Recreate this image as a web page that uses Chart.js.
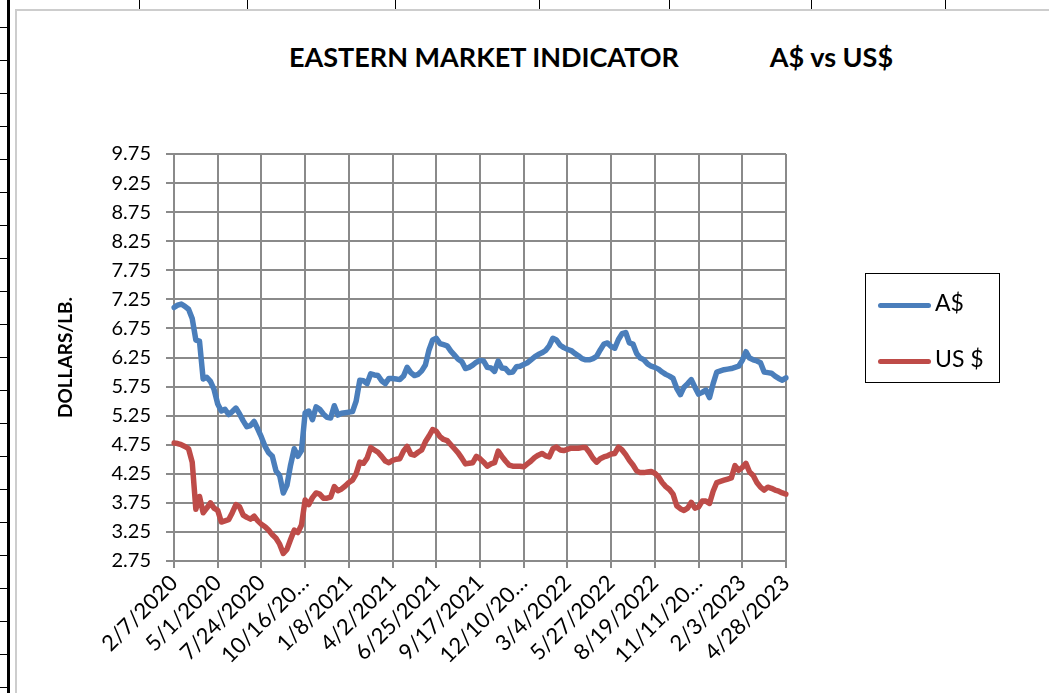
<!DOCTYPE html>
<html lang="en">
<head>
<meta charset="UTF-8">
<title>Eastern Market Indicator</title>
<script src="https://cdn.jsdelivr.net/npm/chart.js"></script>
<style>
    html, body { margin: 0; padding: 0; background: #fff; overflow: hidden; }
    body { width: 1049px; height: 693px; position: relative; font-family: Lato, sans-serif; }
    .cellLine { position: absolute; top: 0; width: 1px; height: 9px; background: #000; }
    .leftBar { position: absolute; left: 7px; top: 0; width: 3px; height: 693px; background: #000; }
    .leftTick { position: absolute; left: 0; width: 7px; height: 1px; background: #000; }
    .frameTop { position: absolute; left: 15px; top: 9px; width: 1034px; height: 2px; background: #cdcdcd; }
    .frameLeft { position: absolute; left: 15px; top: 9px; width: 2px; height: 684px; background: #cdcdcd; }
    .chartBox { position: absolute; left: 15px; top: 9px; width: 1034px; height: 684px; }
    .title { position: absolute; left: 289px; top: 39px; white-space: pre; font: bold 27px Lato, sans-serif; color: #000; line-height: 36px; }
    .legend { position: absolute; left: 865px; top: 273px; width: 135px; height: 110px; border: 1.5px solid #000; box-sizing: border-box; }
    .legend div { position: absolute; left: 12px; height: 28px; font: 23px Lato, sans-serif; color: #000; line-height: 28px; white-space: pre; }
    .legend i { display: inline-block; width: 53px; height: 5px; border-radius: 3px; vertical-align: middle; margin-right: 4px; }
</style>
</head>
<body>
<div id="cells"></div>
<div class="leftBar"></div>
<div class="frameTop"></div>
<div class="frameLeft"></div>
<div class="title">EASTERN MARKET INDICATOR              A$ vs US$</div>
<div class="chartBox"><canvas id="emiChart"></canvas></div>
<div class="legend" id="legend"></div>

<script>
    // weekly EMI, dollars/lb, first week 2/7/2020
    const startDate = new Date(2020, 1, 7);
    const weekCount = 169;

    const tickLabels = ["2/7/2020", "5/1/2020", "7/24/2020", "10/16/20…", "1/8/2021", "4/2/2021",
        "6/25/2021", "9/17/2021", "12/10/20…", "3/4/2022", "5/27/2022", "8/19/2022",
        "11/11/20…", "2/3/2023", "4/28/2023"];

    const audValues = [
        7.11, 7.15, 7.17, 7.13, 7.08, 6.92, 6.55, 6.53, 5.88, 5.91, 5.84, 5.70, 5.45,
        5.33, 5.36, 5.27, 5.32, 5.38, 5.28, 5.16, 5.06, 5.08, 5.15, 5.02, 4.88,
        4.72, 4.61, 4.55, 4.30, 4.22, 3.92, 4.05, 4.40, 4.68, 4.55, 4.65, 5.30,
        5.33, 5.18, 5.40, 5.36, 5.28, 5.22, 5.21, 5.42, 5.26, 5.29, 5.30, 5.31,
        5.32, 5.50, 5.86, 5.85, 5.80, 5.97, 5.95, 5.94, 5.85, 5.80, 5.89, 5.89,
        5.88, 5.87, 5.93, 6.08, 5.99, 5.94, 5.96, 6.02, 6.12, 6.38, 6.55, 6.58,
        6.49, 6.47, 6.45, 6.36, 6.29, 6.22, 6.18, 6.06, 6.08, 6.12, 6.17, 6.20,
        6.19, 6.08, 6.07, 6.01, 6.19, 6.07, 6.06, 5.99, 6.00, 6.09, 6.10, 6.13,
        6.16, 6.21, 6.26, 6.30, 6.33, 6.37, 6.45, 6.58, 6.55, 6.46, 6.42, 6.39,
        6.37, 6.32, 6.28, 6.23, 6.21, 6.21, 6.23, 6.27, 6.38, 6.48, 6.50, 6.44,
        6.41, 6.56, 6.66, 6.68, 6.50, 6.48, 6.32, 6.24, 6.21, 6.14, 6.10, 6.08,
        6.05, 6.00, 5.96, 5.93, 5.89, 5.72, 5.61, 5.74, 5.80, 5.87, 5.74, 5.62,
        5.65, 5.69, 5.56, 5.80, 6.00, 6.02, 6.04, 6.05, 6.06, 6.08, 6.10, 6.20,
        6.35, 6.24, 6.21, 6.19, 6.16, 6.00, 5.99, 5.98, 5.93, 5.89, 5.86, 5.90
    ];

    const usdValues = [
        4.78, 4.77, 4.75, 4.72, 4.68, 4.45, 3.64, 3.86, 3.58, 3.66, 3.75, 3.66, 3.62,
        3.42, 3.44, 3.46, 3.58, 3.72, 3.68, 3.54, 3.50, 3.47, 3.52, 3.44, 3.38,
        3.34, 3.28, 3.20, 3.14, 3.04, 2.88, 2.95, 3.12, 3.28, 3.24, 3.37, 3.80,
        3.72, 3.84, 3.92, 3.90, 3.83, 3.83, 3.85, 4.03, 3.96, 3.99, 4.04, 4.10,
        4.14, 4.25, 4.45, 4.43, 4.52, 4.70, 4.66, 4.62, 4.55, 4.47, 4.44, 4.48,
        4.50, 4.51, 4.64, 4.72, 4.59, 4.57, 4.62, 4.66, 4.80, 4.90, 5.01, 4.98,
        4.89, 4.84, 4.82, 4.75, 4.68, 4.61, 4.52, 4.42, 4.43, 4.44, 4.55, 4.51,
        4.45, 4.38, 4.42, 4.44, 4.64, 4.55, 4.47, 4.40, 4.38, 4.38, 4.38, 4.37,
        4.42, 4.47, 4.53, 4.57, 4.60, 4.56, 4.54, 4.68, 4.71, 4.66, 4.65, 4.67,
        4.69, 4.69, 4.69, 4.70, 4.70, 4.62, 4.52, 4.45, 4.51, 4.54, 4.56, 4.59,
        4.60, 4.71, 4.66, 4.58, 4.48, 4.40, 4.30, 4.27, 4.27, 4.28, 4.29, 4.26,
        4.20, 4.10, 4.03, 3.98, 3.90, 3.70, 3.65, 3.62, 3.66, 3.76, 3.66, 3.68,
        3.78, 3.78, 3.74, 3.95, 4.10, 4.12, 4.14, 4.16, 4.18, 4.39, 4.31, 4.36,
        4.43, 4.28, 4.22, 4.10, 4.02, 3.97, 4.02, 4.00, 3.97, 3.95, 3.92, 3.90
    ];

    const seriesNames = ["A$", "US $"];
    const seriesColors = ["#4a7ebb", "#be4b48"];

    // spreadsheet cell borders behind the chart
    const cellEdges = [139, 247, 395, 539, 669, 811, 945];
    const cells = document.getElementById("cells");
    cellEdges.forEach(x => {
        const d = document.createElement("span");
        d.className = "cellLine";
        d.style.left = x + "px";
        cells.appendChild(d);
    });
    for (let y = 27; y < 693; y += 33) {
        const t = document.createElement("span");
        t.className = "leftTick";
        t.style.top = y + "px";
        cells.appendChild(t);
    }

    const weeks = [];
    for (let i = 0; i < weekCount; i++) {
        const d = new Date(startDate.getTime() + i * 7 * 86400000);
        weeks.push((d.getMonth() + 1) + "/" + d.getDate() + "/" + d.getFullYear());
    }

    const gridGray = "#8a8a8a";

    const chart = new Chart(document.getElementById("emiChart"), {
        type: "line",
        data: {
            labels: weeks,
            datasets: [
                { label: seriesNames[0], data: audValues, borderColor: seriesColors[0] },
                { label: seriesNames[1], data: usdValues, borderColor: seriesColors[1] }
            ]
        },
        options: {
            responsive: true,
            maintainAspectRatio: false,
            animation: false,
            layout: { padding: { left: 0, right: 263, top: 145, bottom: 0 } },
            elements: {
                line: { borderWidth: 5.5, tension: 0, fill: false, borderJoinStyle: "round", borderCapStyle: "round" },
                point: { radius: 0 }
            },
            plugins: {
                legend: { display: false },
                title: { display: false },
                tooltip: { enabled: false }
            },
            scales: {
                x: {
                    grid: { color: gridGray, lineWidth: 2, tickLength: 7 },
                    border: { color: gridGray, width: 2 },
                    ticks: {
                        autoSkip: false,
                        minRotation: 45,
                        maxRotation: 45,
                        padding: 2,
                        color: "#000",
                        font: { family: "Lato", size: 22 },
                        callback: (v, i) => i % 12 === 0 ? tickLabels[i / 12] : null
                    },
                    afterFit: s => { s.height = 132; }
                },
                y: {
                    min: 2.75,
                    max: 9.75,
                    grid: { color: gridGray, lineWidth: 2, tickLength: 8 },
                    border: { color: gridGray, width: 2 },
                    ticks: {
                        stepSize: 0.5,
                        autoSkip: false,
                        padding: 15,
                        color: "#000",
                        font: { family: "Lato", size: 20 },
                        callback: v => v.toFixed(2)
                    },
                    title: {
                        display: true,
                        text: "DOLLARS/LB.",
                        color: "#000",
                        font: { family: "Lato", size: 19, weight: "bold" },
                        padding: { top: 39, bottom: 0 }
                    },
                    afterFit: s => { s.width = 159; }
                }
            }
        }
    });

    // legend box built from the datasets
    const legend = document.getElementById("legend");
    chart.data.datasets.forEach((ds, k) => {
        const row = document.createElement("div");
        row.style.top = (14 + k * 56) + "px";
        row.innerHTML = '<i style="background:' + ds.borderColor + '"></i>' + ds.label;
        legend.appendChild(row);
    });
</script>
</body>
</html>
